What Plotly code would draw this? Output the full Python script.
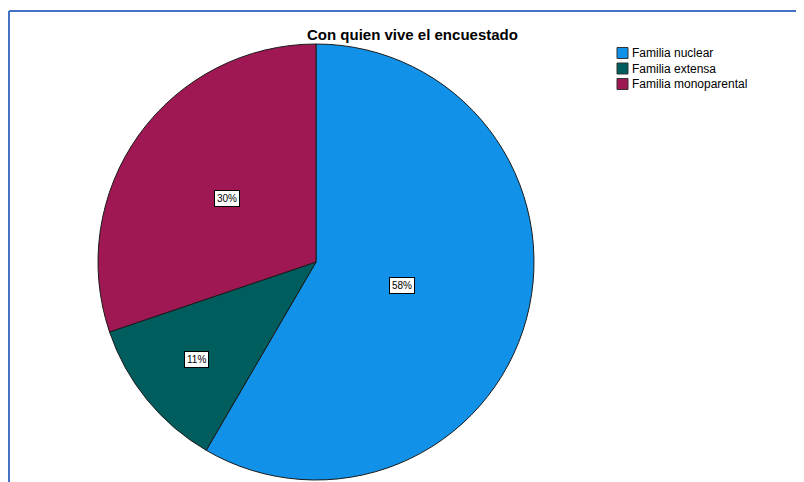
import math
import plotly.graph_objects as go

# ---- data ----
categories = ["Familia nuclear", "Familia extensa", "Familia monoparental"]
values = [58.4, 11.4, 30.2]
colors = ["#1192E8", "#005D5D", "#9F1853"]
label_radius = [0.41, 0.71, 0.50]  # radial position of percentage boxes (fraction of radius)
title_text = "Con quien vive el encuestado"

W, H = 804, 482
OFF = 8  # page body margin offset
cx, cy, R = 316 - OFF, 262 - OFF, 218  # pie geometry in pixels

def px(x):
    return x / W

def py(y):
    return 1 - y / H

fig = go.Figure()
fig.add_trace(go.Pie(
    labels=categories,
    values=values,
    sort=False,
    direction="clockwise",
    rotation=0,
    marker=dict(colors=colors, line=dict(color="#1a1a1a", width=1)),
    textinfo="none",
    hoverinfo="label+percent",
    showlegend=False,
    domain=dict(x=[px(cx - R), px(cx + R)], y=[py(cy + R), py(cy - R)]),
))

annotations = []
shapes = []
total = sum(values)
cum = 0.0
for cat, v, rf in zip(categories, values, label_radius):
    mid = (cum + v / 2) / total * 2 * math.pi
    cum += v
    lx = cx + rf * R * math.sin(mid)
    ly = cy - rf * R * math.cos(mid)
    annotations.append(dict(
        x=px(lx), y=py(ly), xref="paper", yref="paper",
        text=f"{round(v / total * 100)}%", showarrow=False,
        font=dict(family="Arial, Liberation Sans, sans-serif", size=10, color="#000"),
        bgcolor="white", bordercolor="#000", borderwidth=1, borderpad=2,
        xanchor="center", yanchor="middle",
    ))

# manual compact legend
leg_x, leg_y0, leg_dy, sw = 617 - OFF, 53 - OFF, 15.5, 11
for i, (cat, col) in enumerate(zip(categories, colors)):
    yc = leg_y0 + i * leg_dy
    shapes.append(dict(
        type="rect", xref="paper", yref="paper",
        x0=px(leg_x), x1=px(leg_x + sw), y0=py(yc + sw / 2), y1=py(yc - sw / 2),
        fillcolor=col, line=dict(color="#333", width=1),
    ))
    annotations.append(dict(
        x=px(leg_x + sw + 2), y=py(yc), xref="paper", yref="paper",
        text=cat, showarrow=False, xanchor="left", yanchor="middle",
        font=dict(family="Arial, Liberation Sans, sans-serif", size=12, color="#000"),
    ))

# title
annotations.append(dict(
    x=px(413 - OFF), y=py(34 - OFF), xref="paper", yref="paper", text=f"<b>{title_text}</b>",
    showarrow=False, xanchor="center", yanchor="middle",
    font=dict(family="Arial, Liberation Sans, sans-serif", size=15, color="#000"),
))

# blue frame lines (top and left)
shapes.append(dict(type="line", xref="paper", yref="paper", x0=px(9 - OFF), x1=1, y0=py(11 - OFF), y1=py(11 - OFF),
                   line=dict(color="#4472C4", width=2)))
shapes.append(dict(type="line", xref="paper", yref="paper", x0=px(9 - OFF), x1=px(9 - OFF), y0=py(11 - OFF), y1=0,
                   line=dict(color="#4472C4", width=2)))

fig.update_layout(
    width=W, height=H,
    margin=dict(l=0, r=0, t=0, b=0),
    paper_bgcolor="white", plot_bgcolor="white",
    annotations=annotations, shapes=shapes,
    showlegend=False,
)

fig.write_html("out.html")
